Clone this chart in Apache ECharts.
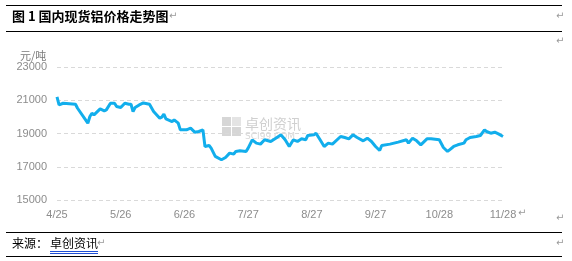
<!DOCTYPE html>
<html>
<head>
<meta charset="utf-8">
<script src="https://cdn.jsdelivr.net/npm/echarts@6/dist/echarts.min.js"></script>
<style>
html,body{margin:0;padding:0;background:#fff;}
#c{width:572px;height:261px;}
</style>
</head>
<body>
<div id="c"></div>
<script>
// ---- data ----
var startDate = "2022-04-25";
var dates = [
"2022-04-25","2022-04-26","2022-04-28","2022-05-04","2022-05-05","2022-05-10","2022-05-11","2022-05-12","2022-05-13","2022-05-16",
"2022-05-18","2022-05-19","2022-05-21","2022-05-23","2022-05-24","2022-05-26","2022-05-28","2022-05-30","2022-05-31","2022-06-01",
"2022-06-02","2022-06-04","2022-06-06","2022-06-09","2022-06-11","2022-06-14","2022-06-15","2022-06-16","2022-06-17","2022-06-20",
"2022-06-21","2022-06-23","2022-06-24","2022-06-27","2022-06-29","2022-07-01","2022-07-03","2022-07-05","2022-07-06","2022-07-08",
"2022-07-09","2022-07-11","2022-07-14","2022-07-16","2022-07-18","2022-07-20","2022-07-21","2022-07-23","2022-07-26","2022-07-27",
"2022-07-29","2022-07-31","2022-08-02","2022-08-04","2022-08-07","2022-08-10","2022-08-12","2022-08-14","2022-08-16","2022-08-18",
"2022-08-20","2022-08-22","2022-08-24","2022-08-25","2022-08-28","2022-08-29","2022-08-31","2022-09-02","2022-09-04","2022-09-06",
"2022-09-10","2022-09-12","2022-09-14","2022-09-16","2022-09-18","2022-09-21","2022-09-23","2022-09-25","2022-09-27","2022-09-29",
"2022-09-30","2022-10-04","2022-10-08","2022-10-12","2022-10-13","2022-10-15","2022-10-17","2022-10-19","2022-10-22","2022-10-24",
"2022-10-28","2022-10-30","2022-11-01","2022-11-02","2022-11-04","2022-11-06","2022-11-09","2022-11-10","2022-11-12","2022-11-15",
"2022-11-17","2022-11-19","2022-11-20","2022-11-22","2022-11-24","2022-11-26","2022-11-28"
];
var prices = [
21200,20720,20820,20760,20520,19620,20020,20220,20120,20480,
20360,20420,20820,20820,20620,20560,20820,20760,20760,20320,
20560,20720,20840,20760,20320,19920,19980,20160,19880,19720,
19820,19620,19220,19220,19320,19080,19120,19220,18220,18280,
18120,17620,17420,17560,17820,17760,17920,17960,17920,18120,
18620,18420,18360,18620,18520,18760,18920,18620,18220,18620,
18520,18680,18620,18880,18920,19020,18620,18220,18420,18360,
18820,18760,18680,18920,18760,18560,18720,18520,18220,17980,
18280,18360,18480,18620,18420,18720,18560,18320,18680,18680,
18620,18160,17920,18020,18220,18320,18420,18620,18760,18820,
18880,19220,19120,19020,19080,18960,18820
];
var xTickLabels = ["4/25","5/26","6/26","7/27","8/27","9/27","10/28","11/28"];
var yTicks = [15000,17000,19000,21000,23000];

// ---- build ----
var DAY = 86400000;
function dayOffset(s){ return Math.round((Date.parse(s+"T00:00:00Z") - Date.parse(startDate+"T00:00:00Z"))/DAY); }
var seriesData = dates.map(function(d,i){ return [dayOffset(d), prices[i]]; });
var xStep = 31;
var xMax = xStep*(xTickLabels.length-1);

var chart = echarts.init(document.getElementById('c'));
var gray = '#8c8c8c';
var mark = '#9a9a9a';
chart.setOption({
  animation:false,
  backgroundColor:'#fff',
  grid:{left:57,right:69,top:67,bottom:61},
  xAxis:{
    type:'value', min:0, max:xMax, interval:xStep,
    axisLine:{show:false}, axisTick:{show:false}, splitLine:{show:false},
    axisLabel:{color:gray,fontSize:11,fontFamily:'Liberation Sans, Arial',margin:9,
      formatter:function(v){ return xTickLabels[Math.round(v/xStep)] || ''; }}
  },
  yAxis:{
    type:'value', min:yTicks[0], max:yTicks[yTicks.length-1], interval:2000,
    axisLine:{show:false}, axisTick:{show:false},
    splitLine:{show:true,lineStyle:{color:'#d9d9d9',type:[4,3],width:1}},
    axisLabel:{color:gray,fontSize:11,fontFamily:'Liberation Sans, Arial',margin:10,
      formatter:function(v){ return String(v); }}
  },
  series:[{
    type:'line', data:seriesData, symbol:'none', smooth:false,
    lineStyle:{color:'#12AEEC',width:3}, z:5
  }],
  graphic:[
    {type:'line',shape:{x1:6,y1:5.5,x2:562,y2:5.5},style:{stroke:'#000',lineWidth:1}},
    {type:'line',shape:{x1:6,y1:31.5,x2:562,y2:31.5},style:{stroke:'#000',lineWidth:1}},
    {type:'line',shape:{x1:6,y1:232.5,x2:562,y2:232.5},style:{stroke:'#000',lineWidth:1}},
    {type:'line',shape:{x1:6,y1:256.5,x2:562,y2:256.5},style:{stroke:'#000',lineWidth:1}},
    {type:'text',left:12,top:10,style:{text:'图 1 国内现货铝价格走势图',fontSize:13,fontWeight:'bold',fill:'#000',fontFamily:'Noto Sans CJK SC'}},
    {type:'text',left:169,top:11,style:{text:'↵',fontSize:10,fill:mark,fontFamily:'DejaVu Sans'}},
    {type:'text',left:556,top:11,style:{text:'↵',fontSize:10,fill:mark,fontFamily:'DejaVu Sans'}},
    {type:'text',left:556,top:36,style:{text:'↵',fontSize:10,fill:mark,fontFamily:'DejaVu Sans'}},
    {type:'text',left:20,top:50,style:{text:'元/吨',fontSize:11,fill:'#7a7a7a',fontFamily:'Noto Sans CJK SC'}},
    {type:'text',left:518,top:208,style:{text:'↵',fontSize:10,fill:mark,fontFamily:'DejaVu Sans'}},
    {type:'text',left:556,top:213,style:{text:'↵',fontSize:10,fill:mark,fontFamily:'DejaVu Sans'}},
    {type:'text',left:12,top:237,style:{text:'来源：',fontSize:12,fill:'#000',fontFamily:'Noto Sans CJK SC'}},
    {type:'text',left:50,top:237,style:{text:'卓创资讯',fontSize:12,fill:'#000',fontFamily:'Noto Sans CJK SC'}},
    {type:'line',shape:{x1:50,y1:251.5,x2:98,y2:251.5},style:{stroke:'#1f4fd6',lineWidth:1}},
    {type:'line',shape:{x1:50,y1:253.5,x2:98,y2:253.5},style:{stroke:'#1f4fd6',lineWidth:1}},
    {type:'text',left:97,top:238,style:{text:'↵',fontSize:10,fill:mark,fontFamily:'DejaVu Sans'}},
    {type:'text',left:556,top:238,style:{text:'↵',fontSize:10,fill:mark,fontFamily:'DejaVu Sans'}},
    // watermark
    {type:'group',left:222,top:117,z:1,children:[
      {type:'rect',shape:{x:0,y:0,width:9,height:9},style:{fill:'#d6d6d6'}},
      {type:'rect',shape:{x:10,y:0,width:9,height:9},style:{fill:'#e4e4e4'}},
      {type:'rect',shape:{x:0,y:10,width:9,height:9},style:{fill:'#d6d6d6'}},
      {type:'rect',shape:{x:10,y:10,width:9,height:9},style:{fill:'#d6d6d6'}},
      {type:'text',x:23,y:0,style:{text:'卓创资讯',fontSize:14,fill:'#d0d0d0',fontFamily:'Noto Sans CJK SC'}},
      {type:'text',x:23,y:15,style:{text:'SCI99.COM',fontSize:9,fill:'#d8d8d8',fontFamily:'DejaVu Sans'}}
    ]}
  ]
});
</script>
</body>
</html>
